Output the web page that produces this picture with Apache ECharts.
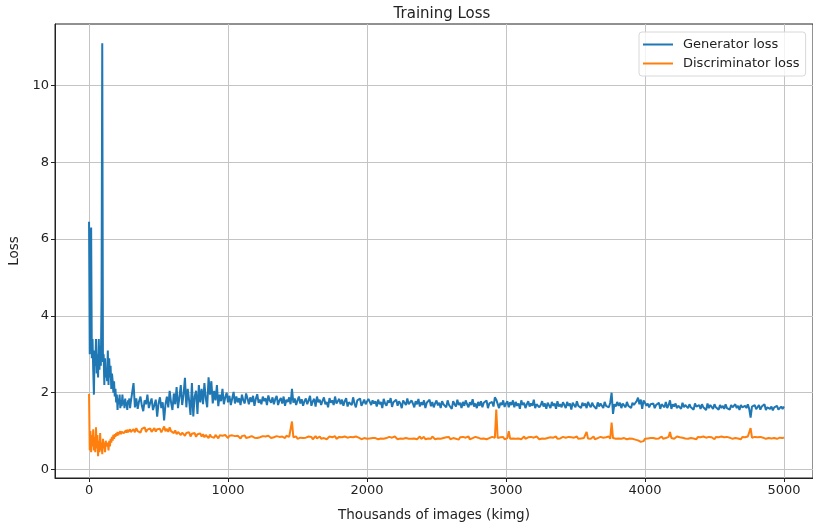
<!DOCTYPE html>
<html>
<head>
    <meta charset="utf-8">
    <title>Training Loss</title>
    <script src="https://cdn.jsdelivr.net/npm/echarts@6/dist/echarts.min.js"></script>
</head>
<body style="margin:0;background:#fff;">
<div id="main" style="width:813px;height:526px;"></div>
<script type="text/javascript">
    // x positions: every 5 kimg for the first 300, then every 10 kimg
    var kimgEarly = [];
    for (var i = 0; i <= 300; i += 5) kimgEarly.push(i);
    var kimgLate = [];
    for (var j = 310; j <= 5000; j += 10) kimgLate.push(j);

    // generator loss (0..300)
    var genEarly = [6.45, 3.0, 5.2, 6.3, 2.9, 3.4, 2.6, 1.95, 3.1, 2.7,
        3.4, 2.5, 3.0, 2.4, 3.4, 2.6, 3.2, 2.7, 4.5, 11.1,
        2.8, 3.0, 2.2, 2.9, 2.4, 2.6, 2.3, 3.1, 2.2, 2.9,
        2.4, 2.7, 2.1, 2.5, 2.3, 2.0, 2.3, 1.9, 2.1, 1.75,
        1.95, 1.55, 1.85, 1.7, 1.95, 1.6, 1.8, 1.65, 1.95, 1.7,
        1.8, 1.6, 1.85, 1.65, 1.75, 1.55, 1.8, 1.7, 1.85, 1.6, 1.75];
    // generator loss (310..5000), one row per 250 kimg
    var genLate = [
        1.75, 2.25, 1.62, 1.85, 1.58, 1.78, 1.9, 1.66, 1.52, 1.8, 1.7, 1.95, 1.6, 1.74, 1.85, 1.55, 1.68, 1.82, 1.38, 1.72, 1.88, 1.6, 1.75, 1.28, 1.7,
        1.9, 1.62, 2.05, 1.75, 1.55, 1.98, 1.7, 2.15, 1.6, 1.88, 2.2, 1.68, 1.95, 2.39, 1.62, 2.1, 1.8, 1.42, 2.25, 1.38, 1.9, 2.05, 1.45, 2.2, 1.75,
        2.1, 1.7, 2.25, 1.85, 1.62, 2.4, 1.95, 2.3, 1.72, 2.05, 1.8, 2.2, 1.65, 1.95, 1.78, 2.1, 1.7, 1.88, 2.0, 1.75, 1.92, 1.68, 1.85, 2.02, 1.72,
        1.9, 1.75, 1.86, 1.68, 1.95, 1.8, 1.72, 1.98, 1.85, 1.7, 1.88, 1.76, 1.92, 1.66, 1.84, 1.96, 1.74, 1.82, 1.7, 1.9, 1.78, 1.86, 1.68, 1.93, 1.8,
        1.74, 1.88, 1.7, 1.84, 1.92, 1.68, 1.8, 1.86, 1.72, 1.9, 1.66, 1.82, 1.76, 1.88, 1.7, 2.1, 1.74, 1.85, 1.68, 1.8, 1.9, 1.72, 1.83, 1.66, 1.78,
        1.85, 1.7, 1.8, 1.92, 1.66, 1.78, 1.84, 1.64, 1.9, 1.75, 1.82, 1.68, 1.79, 1.88, 1.7, 1.76, 1.62, 1.86, 1.74, 1.8, 1.68, 1.9, 1.72, 1.78, 1.84,
        1.7, 1.82, 1.66, 1.78, 1.86, 1.64, 1.75, 1.8, 1.68, 1.88, 1.72, 1.62, 1.8, 1.76, 1.85, 1.66, 1.74, 1.82, 1.7, 1.65, 1.84, 1.76, 1.68, 1.8, 1.72,
        1.78, 1.64, 1.82, 1.7, 1.76, 1.6, 1.84, 1.72, 1.66, 1.8, 1.74, 1.86, 1.63, 1.75, 1.7, 1.82, 1.66, 1.78, 1.72, 1.6, 1.8, 1.74, 1.68, 1.85, 1.7,
        1.66, 1.8, 1.72, 1.62, 1.78, 1.7, 1.84, 1.64, 1.75, 1.68, 1.8, 1.6, 1.74, 1.7, 1.82, 1.65, 1.76, 1.62, 1.72, 1.8, 1.67, 1.74, 1.6, 1.78, 1.7,
        1.75, 1.62, 1.8, 1.68, 1.72, 1.58, 1.78, 1.7, 1.64, 1.82, 1.68, 1.74, 1.6, 1.76, 1.66, 1.8, 1.7, 1.62, 1.75, 1.68, 1.83, 1.64, 1.72, 1.6, 1.76,
        1.66, 1.78, 1.62, 1.74, 1.7, 1.8, 1.6, 1.72, 1.68, 1.76, 1.64, 1.88, 1.82, 1.86, 1.6, 1.74, 1.68, 1.8, 1.63, 1.72, 1.78, 1.62, 1.75, 1.68, 1.8,
        1.62, 1.76, 1.66, 1.72, 1.58, 1.8, 1.68, 1.74, 1.6, 1.7, 1.78, 1.64, 1.72, 1.66, 1.82, 1.6, 1.7, 1.75, 1.62, 1.68, 1.78, 1.64, 1.72, 1.58, 1.74,
        1.7, 1.6, 1.76, 1.66, 1.72, 1.58, 1.78, 1.64, 1.7, 1.62, 1.75, 1.68, 1.6, 1.76, 1.66, 1.72, 1.56, 1.74, 1.68, 1.62, 1.78, 1.66, 1.7, 1.6, 1.74,
        1.66, 1.72, 1.6, 1.76, 1.68, 1.62, 1.74, 1.66, 1.7, 1.58, 1.75, 1.64, 1.72, 1.68, 1.6, 1.76, 1.66, 1.7, 1.62, 1.74, 2.0, 1.45, 1.7, 1.64, 1.76,
        1.66, 1.74, 1.6, 1.72, 1.68, 1.62, 1.76, 1.66, 1.7, 1.6, 1.74, 1.68, 1.64, 1.78, 1.87, 1.7, 1.82, 1.58, 1.8, 1.74, 1.66, 1.72, 1.62, 1.7, 1.66,
        1.72, 1.6, 1.68, 1.64, 1.74, 1.58, 1.7, 1.66, 1.62, 1.76, 1.6, 1.68, 1.8, 1.58, 1.7, 1.64, 1.72, 1.6, 1.66, 1.7, 1.58, 1.74, 1.62, 1.68, 1.64,
        1.6, 1.7, 1.62, 1.66, 1.56, 1.72, 1.64, 1.6, 1.68, 1.58, 1.7, 1.62, 1.66, 1.55, 1.72, 1.6, 1.68, 1.64, 1.58, 1.7, 1.62, 1.66, 1.56, 1.68, 1.6,
        1.66, 1.58, 1.7, 1.6, 1.64, 1.56, 1.68, 1.62, 1.58, 1.7, 1.6, 1.66, 1.55, 1.68, 1.62, 1.58, 1.66, 1.6, 1.7, 1.58, 1.35, 1.64, 1.6, 1.68, 1.57,
        1.62, 1.68, 1.56, 1.64, 1.6, 1.7, 1.55, 1.62, 1.66, 1.58, 1.64, 1.54, 1.62, 1.6, 1.66, 1.56, 1.6, 1.64, 1.58, 1.64];

    // discriminator loss (0..300)
    var discEarly = [1.97, 0.5, 1.0, 0.45, 0.9, 0.6, 1.05, 0.5, 0.85, 0.45,
        1.1, 0.55, 0.9, 0.35, 0.75, 0.45, 0.95, 0.5, 0.7, 0.4,
        0.8, 0.55, 0.7, 0.45, 0.75, 0.6, 0.55, 0.7, 0.5, 0.75,
        0.6, 0.8, 0.7, 0.85, 0.75, 0.9, 0.8, 0.92, 0.85, 0.95,
        0.88, 0.98, 0.9, 0.95, 0.88, 1.0, 0.92, 0.98, 0.94, 1.02,
        0.95, 1.0, 0.93, 1.02, 0.96, 1.04, 0.97, 1.0, 0.95, 1.05, 0.98];
    // discriminator loss (310..5000)
    var discLate = [
        1.0, 1.05, 0.97, 1.08, 1.0, 1.04, 0.96, 1.06, 1.02, 1.1, 0.98, 1.04, 1.0, 1.07, 0.98, 1.03, 1.08, 0.99, 1.05, 1.01, 1.06, 0.97, 1.04, 1.12, 1.0,
        1.06, 0.98, 1.1, 1.0, 1.04, 0.95, 1.02, 0.92, 0.98, 1.03, 0.9, 0.96, 1.0, 0.88, 0.95, 0.9, 0.97, 0.86, 0.93, 0.89, 0.95, 0.85, 0.92, 0.88, 0.94,
        0.86, 0.92, 0.84, 0.9, 0.87, 0.82, 0.91, 0.85, 0.88, 0.83, 0.9, 0.86, 0.81, 0.89, 0.85, 0.88, 0.83, 0.9, 0.86, 0.82, 0.88, 0.84, 0.89, 0.85, 0.87,
        0.83, 0.88, 0.85, 0.81, 0.87, 0.84, 0.89, 0.82, 0.86, 0.84, 0.8, 0.87, 0.85, 0.83, 0.88, 0.82, 0.86, 0.84, 0.81, 0.87, 0.83, 0.86, 0.82, 0.88, 0.84,
        0.82, 0.86, 0.84, 0.8, 0.87, 0.83, 0.85, 0.81, 0.86, 0.84, 0.82, 0.88, 0.83, 0.85, 0.81, 1.25, 0.84, 0.82, 0.86, 0.8, 0.85, 0.83, 0.87, 0.82, 0.84,
        0.83, 0.8, 0.86, 0.82, 0.85, 0.79, 0.84, 0.87, 0.81, 0.83, 0.86, 0.8, 0.84, 0.82, 0.85, 0.79, 0.83, 0.86, 0.81, 0.84, 0.82, 0.87, 0.8, 0.83, 0.85,
        0.81, 0.84, 0.8, 0.86, 0.82, 0.83, 0.79, 0.85, 0.82, 0.84, 0.8, 0.86, 0.81, 0.83, 0.85, 0.79, 0.84, 0.82, 0.86, 0.8, 0.83, 0.81, 0.85, 0.82, 0.84,
        0.82, 0.85, 0.79, 0.83, 0.81, 0.86, 0.8, 0.84, 0.82, 0.78, 0.85, 0.81, 0.83, 0.8, 0.86, 0.82, 0.79, 0.84, 0.81, 0.85, 0.8, 0.83, 0.82, 0.86, 0.8,
        0.83, 0.8, 0.85, 0.81, 0.84, 0.79, 0.83, 0.86, 0.8, 0.82, 0.85, 0.79, 0.84, 0.81, 0.83, 0.8, 0.86, 0.82, 0.79, 0.84, 0.81, 0.85, 0.8, 0.83, 0.82,
        0.8, 0.84, 0.81, 0.85, 0.79, 0.83, 0.82, 0.86, 0.8, 0.83, 0.78, 0.84, 0.82, 0.85, 0.8, 0.83, 0.81, 0.86, 0.79, 0.84, 0.82, 0.8, 0.85, 0.81, 0.83,
        0.84, 0.8, 0.83, 0.81, 0.85, 0.79, 0.84, 0.82, 0.8, 0.85, 0.81, 0.83, 1.56, 0.82, 0.8, 0.84, 0.81, 0.85, 0.79, 0.83, 0.82, 1.0, 0.8, 0.84, 0.81,
        0.83, 0.8, 0.85, 0.81, 0.84, 0.79, 0.83, 0.86, 0.8, 0.82, 0.84, 0.79, 0.85, 0.81, 0.83, 0.8, 0.86, 0.82, 0.79, 0.84, 0.81, 0.85, 0.8, 0.83, 0.82,
        0.81, 0.84, 0.79, 0.83, 0.82, 0.86, 0.8, 0.84, 0.81, 0.78, 0.85, 0.82, 0.83, 0.8, 0.85, 0.81, 0.84, 0.79, 0.83, 0.82, 0.86, 0.8, 0.84, 0.81, 0.83,
        0.82, 0.85, 0.98, 0.81, 0.84, 0.8, 0.83, 0.86, 0.79, 0.84, 0.82, 0.8, 0.85, 0.81, 0.83, 0.79, 0.84, 0.82, 0.86, 0.8, 1.22, 0.82, 0.84, 0.8, 0.83,
        0.81, 0.84, 0.8, 0.83, 0.82, 0.85, 0.79, 0.83, 0.81, 0.84, 0.8, 0.82, 0.78, 0.8, 0.76, 0.78, 0.72, 0.7, 0.74, 0.8, 0.83, 0.81, 0.85, 0.82, 0.84,
        0.82, 0.85, 0.8, 0.84, 0.81, 0.83, 0.86, 0.8, 0.84, 0.82, 0.79, 0.85, 0.98, 0.82, 0.84, 0.8, 0.83, 0.86, 0.81, 0.84, 0.8, 0.83, 0.85, 0.81, 0.84,
        0.8, 0.84, 0.82, 0.86, 0.81, 0.83, 0.79, 0.85, 0.82, 0.84, 0.8, 0.86, 0.82, 0.83, 0.8, 0.85, 0.81, 0.84, 0.82, 0.79, 0.85, 0.81, 0.84, 0.82, 0.86,
        0.81, 0.84, 0.8, 0.85, 0.82, 0.83, 0.86, 0.8, 0.84, 0.82, 0.85, 0.81, 0.83, 0.79, 0.85, 0.82, 0.84, 0.8, 0.86, 0.82, 1.08, 0.83, 0.81, 0.85, 0.82,
        0.84, 0.81, 0.85, 0.82, 0.83, 0.86, 0.8, 0.84, 0.82, 0.85, 0.81, 0.84, 0.82, 0.86, 0.8, 0.84, 0.83, 0.85, 0.82, 0.84];

    var xTicks = [0, 1000, 2000, 3000, 4000, 5000];
    var yTicks = [0, 2, 4, 6, 8, 10];

    function pairs(xs, ys) {
        var out = [];
        for (var k = 0; k < xs.length; k++) out.push([xs[k], ys[k]]);
        return out;
    }
    var kimg = kimgEarly.concat(kimgLate);
    var genData = pairs(kimg, genEarly.concat(genLate));
    var discData = pairs(kimg, discEarly.concat(discLate));

    var font = 'DejaVu Sans';
    var ink = '#222';
    var chart = echarts.init(document.getElementById('main'));

    var option = {
        animation: false,
        backgroundColor: '#fff',
        title: {
            text: 'Training Loss',
            left: 437,
            top: 2,
            textAlign: 'center',
            textStyle: {fontFamily: font, fontSize: 15, fontWeight: 'normal', color: ink}
        },
        legend: {
            orient: 'vertical',
            left: 639,
            top: 32,
            padding: [6, 6, 6, 4],
            itemWidth: 30,
            itemHeight: 2,
            itemGap: 6,
            icon: 'rect',
            borderColor: '#d8d8d8',
            borderWidth: 1,
            borderRadius: 3,
            backgroundColor: 'rgba(255,255,255,0.8)',
            textStyle: {fontFamily: font, fontSize: 13, color: ink, padding: [0, 0, 0, 5]},
            data: ['Generator loss', 'Discriminator loss']
        },
        grid: {
            left: 55, top: 24, right: 0, bottom: 48,
            outerBoundsMode: 'none',
            containLabel: false,
            show: true, borderColor: ink, borderWidth: 1
        },
        xAxis: {
            type: 'value',
            min: -245,
            max: 5209,
            name: 'Thousands of images (kimg)',
            nameLocation: 'middle',
            nameGap: 30,
            nameTextStyle: {fontFamily: font, fontSize: 13.5, color: ink},
            axisLine: {show: true, onZero: false, lineStyle: {color: ink}},
            axisTick: {show: true, length: 4, customValues: xTicks, lineStyle: {color: ink}},
            axisLabel: {
                customValues: xTicks, fontFamily: font, fontSize: 13, color: ink, margin: 6,
                formatter: function (v) { return String(v); }
            },
            splitLine: {show: true, lineStyle: {color: '#c4c4c4', width: 1}}
        },
        yAxis: {
            type: 'value',
            min: -0.22,
            max: 11.6,
            name: 'Loss',
            nameLocation: 'middle',
            nameGap: 30,
            nameTextStyle: {fontFamily: font, fontSize: 13.5, color: ink},
            axisLine: {show: true, onZero: false, lineStyle: {color: ink}},
            axisTick: {show: true, length: 4, customValues: yTicks, lineStyle: {color: ink}},
            axisLabel: {customValues: yTicks, fontFamily: font, fontSize: 13, color: ink, margin: 6},
            splitLine: {show: true, lineStyle: {color: '#c4c4c4', width: 1}}
        },
        series: [
            {
                name: 'Generator loss',
                type: 'line',
                data: genData,
                showSymbol: false,
                symbol: 'none',
                itemStyle: {color: '#1f77b4'},
                lineStyle: {color: '#1f77b4', width: 2}
            },
            {
                name: 'Discriminator loss',
                type: 'line',
                data: discData,
                showSymbol: false,
                symbol: 'none',
                itemStyle: {color: '#ff7f0e'},
                lineStyle: {color: '#ff7f0e', width: 2}
            }
        ]
    };
    chart.setOption(option);
</script>
</body>
</html>
